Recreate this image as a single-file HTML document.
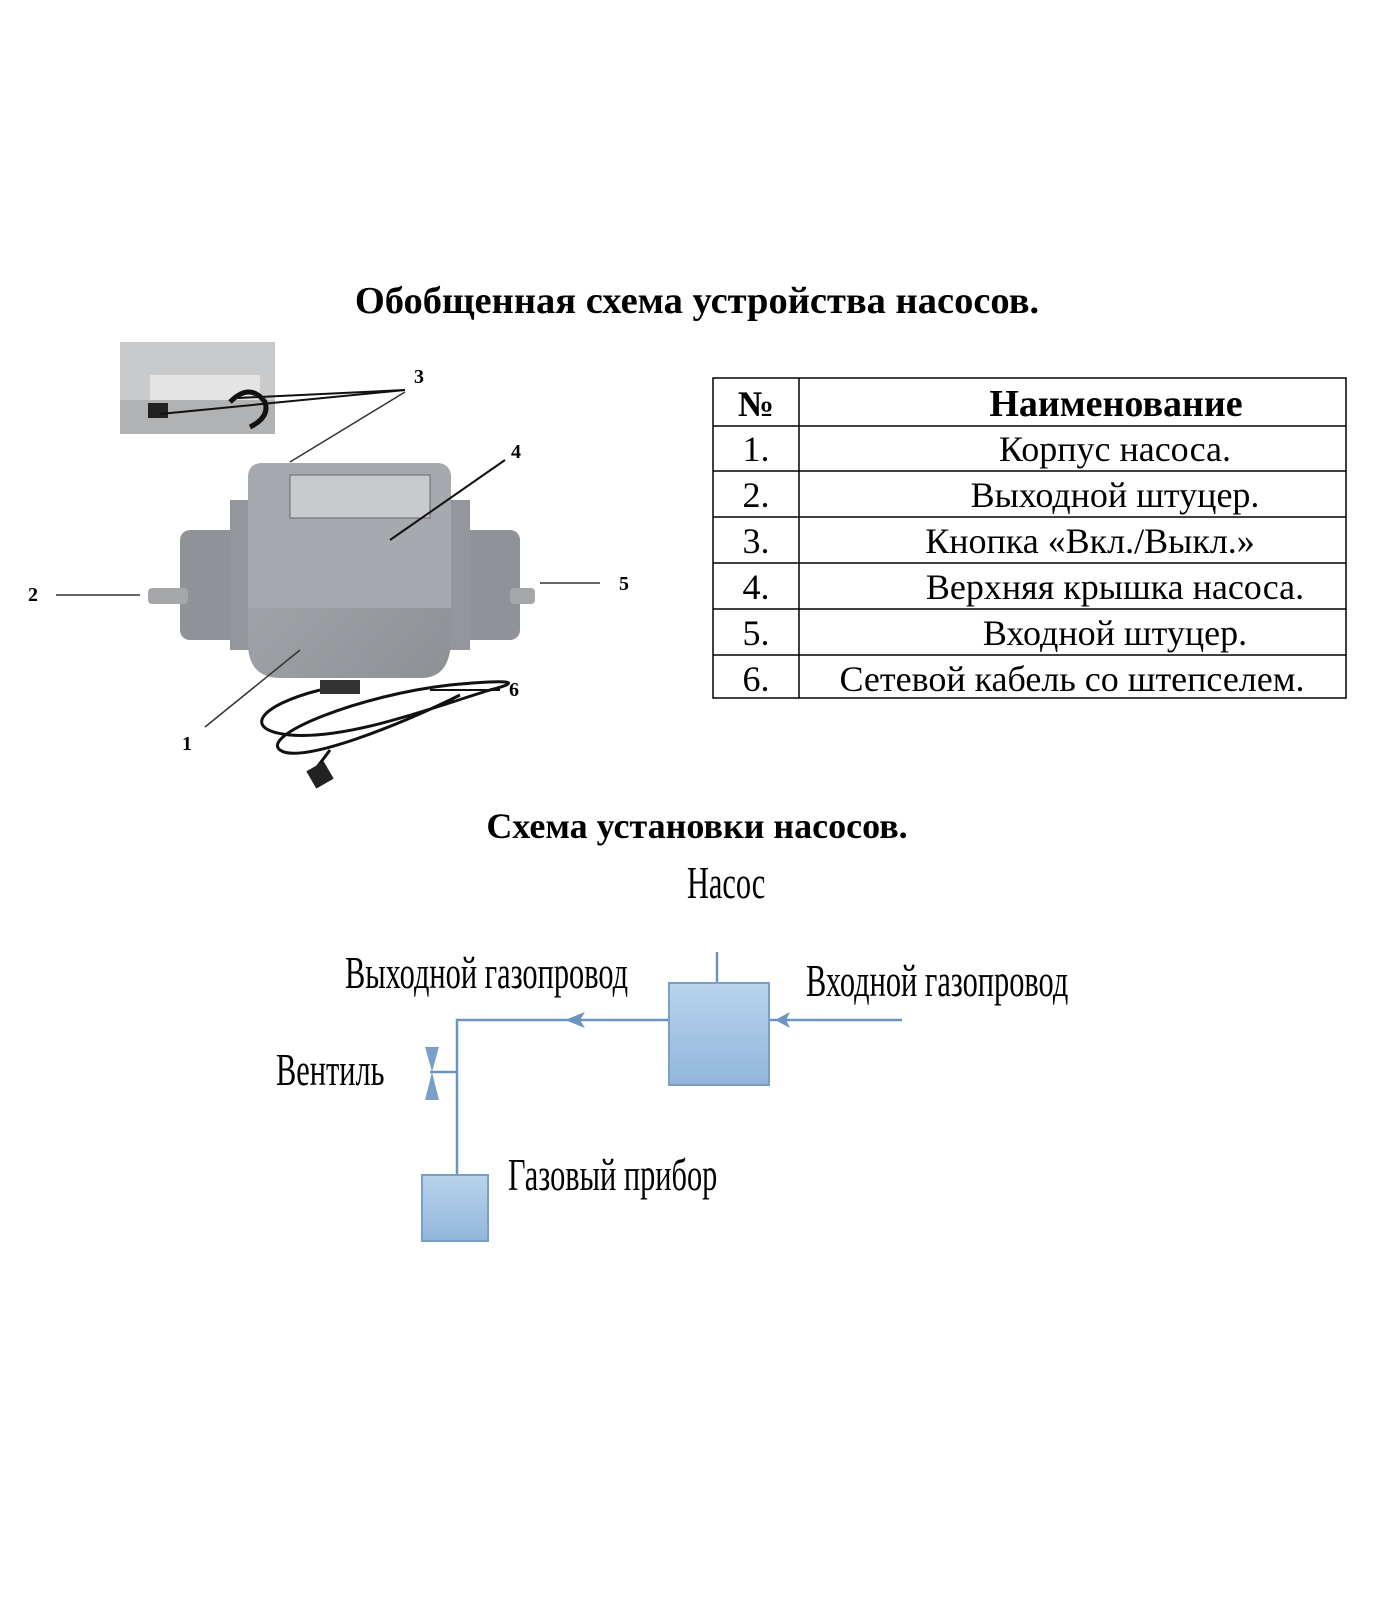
<!DOCTYPE html>
<html><head><meta charset="utf-8"><style>
html,body{margin:0;padding:0;background:#fff}
svg{display:block}
text{font-family:"Liberation Serif",serif}
</style></head><body>
<svg width="1400" height="1600" viewBox="0 0 1400 1600" xmlns="http://www.w3.org/2000/svg">
<defs>
<linearGradient id="bx" x1="0" y1="0" x2="0" y2="1"><stop offset="0" stop-color="#b9d3ec"/><stop offset="1" stop-color="#92b6da"/></linearGradient>
<linearGradient id="pg" x1="0" y1="0" x2="1" y2="1"><stop offset="0" stop-color="#a9acb0"/><stop offset="1" stop-color="#8d9094"/></linearGradient>
</defs>
<text x="697" y="313" font-size="38.5" font-weight="bold" text-anchor="middle">Обобщенная схема устройства насосов.</text>

<!-- inset photo -->
<rect x="120" y="342" width="155" height="92" fill="#c9cacc"/>
<rect x="150" y="375" width="110" height="55" fill="#e4e4e4"/>
<rect x="120" y="400" width="155" height="34" fill="#b0b2b4"/>
<rect x="148" y="403" width="20" height="15" fill="#222"/>
<path d="M230 402 q20 -20 35 0 q5 15 -15 25" stroke="#111" stroke-width="5" fill="none"/>
<line x1="160" y1="414" x2="405" y2="390" stroke="#111" stroke-width="2"/>
<line x1="238" y1="398" x2="405" y2="390" stroke="#111" stroke-width="2"/>
<line x1="290" y1="462" x2="405" y2="392" stroke="#333" stroke-width="1.5"/>

<!-- pump -->
<rect x="180" y="530" width="70" height="110" rx="10" fill="#8f9296"/>
<rect x="460" y="530" width="60" height="110" rx="10" fill="#8f9296"/>
<rect x="148" y="588" width="40" height="16" rx="4" fill="#a5a7aa"/>
<rect x="510" y="588" width="25" height="16" rx="4" fill="#a5a7aa"/>
<rect x="230" y="500" width="240" height="150" fill="#93969a"/>
<path d="M248 478 q0 -15 15 -15 h173 q15 0 15 15 v160 q0 40 -30 40 h-140 q-33 0 -33 -35 z" fill="url(#pg)"/>
<path d="M248 478 q0 -15 15 -15 h173 q15 0 15 15 v130 h-203 z" fill="#a6a9ad"/>
<rect x="290" y="475" width="140" height="43" fill="#c8cacc" stroke="#666"/>
<rect x="320" y="680" width="40" height="14" fill="#333"/>
<path d="M320 690 c-60 15 -80 40 -30 45 c60 5 150 -30 200 -45 c40 -10 10 -10 -40 -5 c-90 10 -190 50 -170 65 c20 15 120 -25 180 -55" stroke="#111" stroke-width="3" fill="none"/>
<path d="M330 750 l-15 20" stroke="#111" stroke-width="3"/>
<rect x="310" y="765" width="20" height="20" fill="#222" transform="rotate(-30 320 775)"/>

<!-- callouts -->
<line x1="56" y1="595" x2="140" y2="595" stroke="#333" stroke-width="1.5"/>
<line x1="540" y1="583" x2="600" y2="583" stroke="#333" stroke-width="1.5"/>
<line x1="390" y1="540" x2="505" y2="460" stroke="#111" stroke-width="2"/>
<line x1="205" y1="727" x2="300" y2="650" stroke="#333" stroke-width="1.5"/>
<line x1="430" y1="690" x2="500" y2="690" stroke="#111" stroke-width="2"/>
<g font-size="20" font-weight="bold">
<text x="414" y="383">3</text><text x="511" y="458">4</text>
<text x="28" y="601">2</text><text x="619" y="590">5</text>
<text x="509" y="696">6</text><text x="182" y="750">1</text>
</g>

<!-- table -->
<g stroke="#000" stroke-width="1.5" fill="none">
<rect x="713" y="378" width="633" height="320"/>
<line x1="799" y1="378" x2="799" y2="698"/>
<line x1="713" y1="426" x2="1346" y2="426"/>
<line x1="713" y1="471" x2="1346" y2="471"/>
<line x1="713" y1="517" x2="1346" y2="517"/>
<line x1="713" y1="563" x2="1346" y2="563"/>
<line x1="713" y1="609" x2="1346" y2="609"/>
<line x1="713" y1="655" x2="1346" y2="655"/>
</g>
<g font-size="36">
<text x="756" y="416" text-anchor="middle" font-weight="bold">№</text>
<text x="1116" y="416" text-anchor="middle" font-weight="bold" font-size="38">Наименование</text>
<text x="756" y="461" text-anchor="middle">1.</text><text x="1115" y="461" text-anchor="middle">Корпус насоса.</text>
<text x="756" y="507" text-anchor="middle">2.</text><text x="1115" y="507" text-anchor="middle">Выходной штуцер.</text>
<text x="756" y="553" text-anchor="middle">3.</text><text x="1090" y="553" text-anchor="middle">Кнопка «Вкл./Выкл.»</text>
<text x="756" y="599" text-anchor="middle">4.</text><text x="1115" y="599" text-anchor="middle">Верхняя крышка насоса.</text>
<text x="756" y="645" text-anchor="middle">5.</text><text x="1115" y="645" text-anchor="middle">Входной штуцер.</text>
<text x="756" y="691" text-anchor="middle">6.</text><text x="1072" y="691" text-anchor="middle">Сетевой кабель со штепселем.</text>
</g>

<text x="697" y="838" font-size="36" font-weight="bold" text-anchor="middle">Схема установки насосов.</text>

<!-- schematic -->
<g font-size="46">
<text transform="translate(687 898) scale(0.66 1)">Насос</text>
<text transform="translate(345 988) scale(0.66 1)">Выходной газопровод</text>
<text transform="translate(806 996) scale(0.66 1)">Входной газопровод</text>
<text transform="translate(276 1085) scale(0.66 1)">Вентиль</text>
<text transform="translate(508 1190) scale(0.66 1)">Газовый прибор</text>
</g>
<g stroke="#6b94c0" stroke-width="2.5" fill="none">
<line x1="717" y1="952" x2="717" y2="983"/>
<polyline points="669,1020 457,1020 457,1175"/>
<line x1="769" y1="1020" x2="902" y2="1020"/>
<line x1="430" y1="1072" x2="457" y2="1072"/>
</g>
<polygon points="565,1020 585,1012 580,1020 585,1028" fill="#6b94c0"/>
<polygon points="775,1020 790,1012 786,1020 790,1028" fill="#6b94c0"/>
<polygon points="425,1047 439,1047 432,1072" fill="#7aa0c8"/>
<polygon points="425,1100 439,1100 432,1072" fill="#7aa0c8"/>
<rect x="669" y="983" width="100" height="102" fill="url(#bx)" stroke="#7aa0c8" stroke-width="2"/>
<rect x="422" y="1175" width="66" height="66" fill="url(#bx)" stroke="#7aa0c8" stroke-width="2"/>
</svg>
</body></html>
